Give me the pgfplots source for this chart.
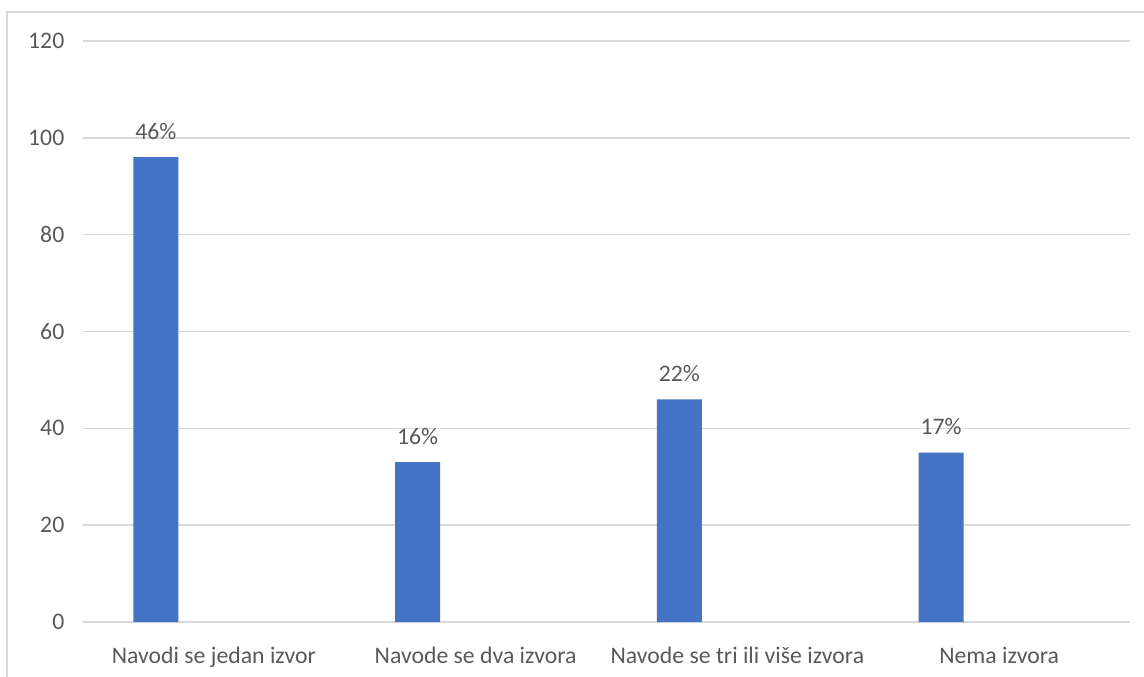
\documentclass[border=0pt]{standalone}
\usepackage{pgfplots}
\pgfplotsset{compat=1.18}
\usepackage{fontspec}
\setmainfont{Carlito}
\definecolor{barblue}{HTML}{4472C4}
\definecolor{gridgray}{HTML}{D9D9D9}
\definecolor{txtgray}{HTML}{595959}
\begin{document}
\begin{tikzpicture}[x=0.75pt,y=0.75pt]
\path[use as bounding box] (0,0) rectangle (1144,677);
\draw[gridgray, line width=1.2pt] (7,0) -- (7,665) -- (1144,665);
\begin{axis}[
  at={(62.25pt,41.25pt)}, anchor=south west,
  scale only axis, width=785.25pt, height=435.75pt,
  xmin=-0.5, xmax=3.5, ymin=0, ymax=120,
  ytick={0,20,...,120},
  xtick={0,1,2,3},
  xticklabels={Navodi se jedan izvor, Navode se dva izvora, Navode se tri ili više izvora, Nema izvora},
  axis line style={draw=none},
  major tick length=0pt,
  ymajorgrids, grid style={gridgray, line width=1.1pt},
  /pgf/number format/assume math mode=true,
  tick label style={font=\fontsize{17.8}{21}\selectfont, text=txtgray},
  yticklabel style={xshift=-10.5pt},
  xticklabel style={yshift=-15pt},
  clip=false,
]
\addplot[ybar, fill=barblue, draw=none, bar width=0.172,
  nodes near coords, point meta=explicit symbolic,
  every node near coord/.append style={font=\fontsize{17.8}{21}\selectfont, text=txtgray, yshift=9.5pt}]
  coordinates {(-0.222,96) [46\%] (0.778,33) [16\%] (1.778,46) [22\%] (2.778,35) [17\%]};
\end{axis}
\end{tikzpicture}
\end{document}
